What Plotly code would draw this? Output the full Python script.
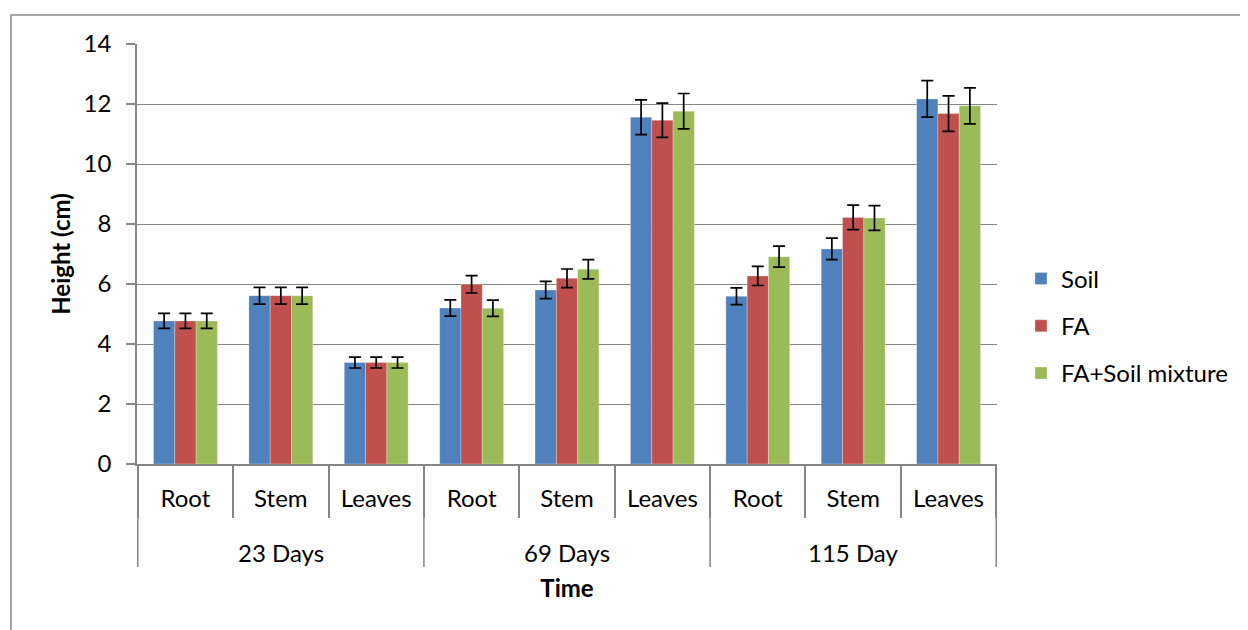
import plotly.graph_objects as go

groups = ["23 Days", "69 Days", "115 Day"]
periods = ["23 Days", "23 Days", "23 Days", "69 Days", "69 Days", "69 Days", "115 Day", "115 Day", "115 Day"]
parts = ["Root", "Stem", "Leaves", "Root", "Stem", "Leaves", "Root", "Stem", "Leaves"]

soil = [4.77, 5.61, 3.38, 5.20, 5.80, 11.56, 5.59, 7.17, 12.17]
fa = [4.77, 5.61, 3.38, 5.99, 6.19, 11.46, 6.27, 8.22, 11.68]
mix = [4.77, 5.61, 3.38, 5.19, 6.49, 11.76, 6.91, 8.20, 11.94]

soil_err = [0.25, 0.28, 0.18, 0.27, 0.29, 0.58, 0.28, 0.36, 0.61]
fa_err = [0.25, 0.28, 0.18, 0.29, 0.31, 0.57, 0.32, 0.41, 0.59]
mix_err = [0.25, 0.28, 0.18, 0.27, 0.32, 0.59, 0.35, 0.41, 0.60]

series_names = ["Soil", "FA", "FA+Soil mixture"]
colors = ["#4F81BD", "#C0504D", "#9BBB59"]

keys = [f"{p} | {q}" for p, q in zip(periods, parts)]

FONT = "Lato"
FS = 24
GRID = "#868686"

# plot area (page pixels): left 137, right 997, top 44, bottom 464; page has an 8px body margin
PW, PH = 860, 420
OFF = 8

fig = go.Figure()
for i, (name, vals, errs, col) in enumerate(zip(series_names, [soil, fa, mix], [soil_err, fa_err, mix_err], colors)):
    fig.add_trace(go.Bar(
        x=keys, y=vals, name=name, legendgroup=f"g{i}",
        marker=dict(color=col, line=dict(color="rgba(255,255,255,0.45)", width=0.6)),
        error_y=dict(type="data", array=errs, visible=True, color="black", thickness=1.7, width=6),
    ))

fig.update_layout(
    width=1248 - OFF, height=630 - OFF,
    paper_bgcolor="white", plot_bgcolor="white",
    margin=dict(l=137 - OFF, r=1248 - OFF - (137 - OFF) - PW, t=44 - OFF, b=630 - OFF - (44 - OFF) - PH, autoexpand=False),
    barmode="group", bargap=0.33, bargroupgap=0,
    font=dict(family=FONT, size=FS, color="black"),
    showlegend=True,
    legend=dict(x=(1021 - 137) / PW, y=(464 - 326) / PH, yanchor="middle", xanchor="left",
                font=dict(size=FS), tracegroupgap=13, itemwidth=30, bgcolor="rgba(0,0,0,0)"),
    xaxis=dict(
        type="category", categoryorder="array", categoryarray=keys,
        tickmode="array", tickvals=keys, ticktext=parts,
        showline=True, linecolor=GRID, linewidth=1.5,
        ticks="outside", tickson="boundaries", ticklen=52, tickcolor=GRID, tickwidth=1.5,
        ticklabelstandoff=12,
        title=dict(text="<b>Time</b>", font=dict(size=FS), standoff=70),
        tickfont=dict(size=FS),
    ),
    yaxis=dict(
        range=[0, 14], dtick=2, showgrid=True, gridcolor=GRID, gridwidth=1.3,
        showline=True, linecolor=GRID, linewidth=1.5,
        ticks="outside", ticklen=9, tickcolor=GRID, tickwidth=1.5,
        ticklabelstandoff=10,
        title=dict(text="<b>Height (cm)</b>", font=dict(size=FS), standoff=6),
        tickfont=dict(size=FS), zeroline=False,
    ),
)

# outer category labels and group dividers
n_per = len(parts) // len(groups)
for gi, g in enumerate(groups):
    fig.add_annotation(x=keys[gi * n_per + n_per // 2], xref="x", y=(464 - 552) / PH, yref="paper",
                       text=g, showarrow=False, yanchor="middle", font=dict(size=FS))
for b in range(len(groups) + 1):
    fig.add_shape(type="line", xref="x", yref="paper", x0=b * n_per - 0.5, x1=b * n_per - 0.5,
                  y0=0, y1=(464 - 567) / PH, line=dict(color=GRID, width=1.5))

# chart-area border
fig.add_shape(type="rect", xref="paper", yref="paper",
              x0=(11 - 137) / PW, x1=(1270 - 137) / PW,
              y0=(464 - 660) / PH, y1=(464 - 15) / PH,
              line=dict(color=GRID, width=1.5), fillcolor="rgba(0,0,0,0)", layer="below")

fig.write_html("out.html")
